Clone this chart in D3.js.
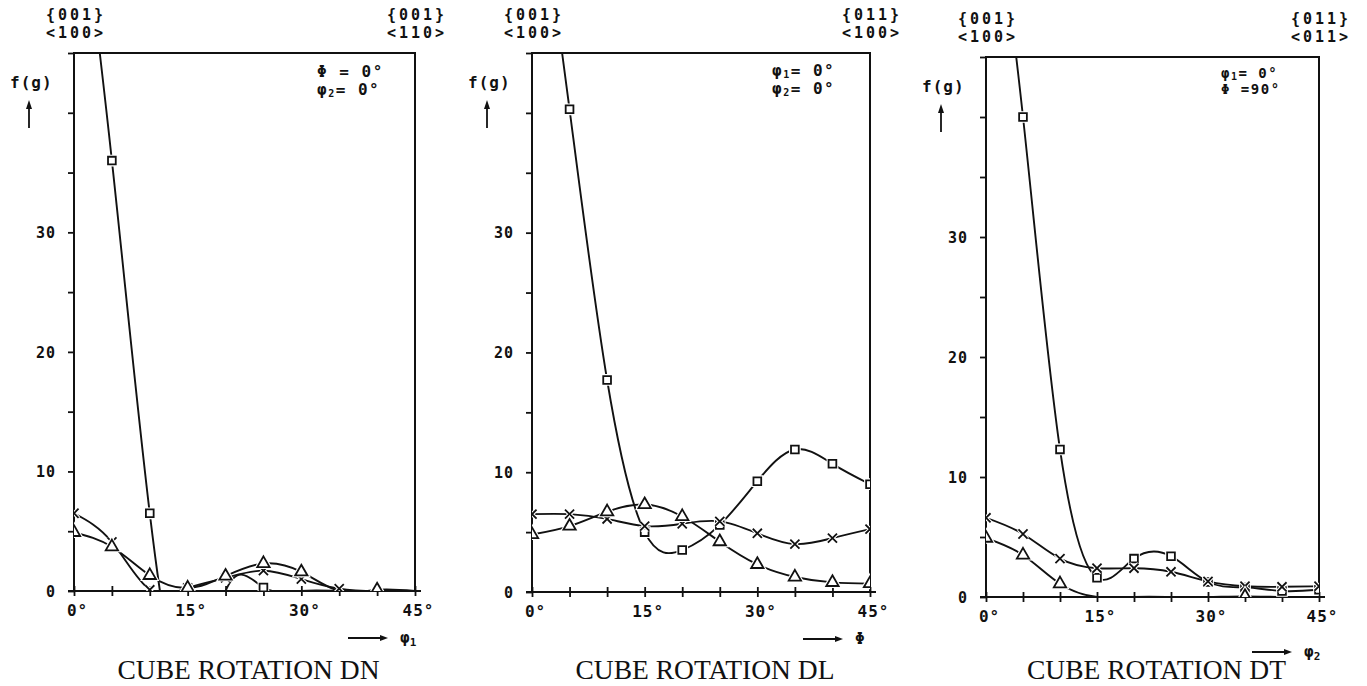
<!DOCTYPE html>
<html>
<head>
<meta charset="utf-8">
<script src="https://cdn.jsdelivr.net/npm/d3@7"></script>
<style>
  html, body { margin: 0; padding: 0; background: #fff; }
  svg { display: block; }
  .plot text { font-family: "DejaVu Sans Mono", monospace; font-weight: bold; fill: #111; }
  .cap { font-family: "Liberation Serif", "Times New Roman", serif; fill: #111; }
</style>
</head>
<body>
<svg id="chart" width="1367" height="686"></svg>
<script>
// ---------------- DATA ----------------
const angles = [0, 5, 10, 15, 20, 25, 30, 35, 40, 45];
const xTickValues = [0, 15, 30, 45];
const xTickLabels = ["0°", "15°", "30°", "45°"];
const yTickValues = [0, 10, 20, 30];
const yTickLabels = ["0", "10", "20", "30"];

// Cube rotation DN (phi1 varies) — value at 15° lies below the plotted range
const dnSquare   = [63, 36, 6.5, -9, 0, 0.3, 0, 0, 0, 0];
const dnCross    = [6.5, 4.1, 0.1, 0.25, 1.1, 1.7, 1.0, 0.2, 0, 0];
const dnTriangle = [4.9, 3.7, 1.3, 0.25, 1.25, 2.3, 1.6, 0, 0.1, 0];

// Cube rotation DL (Phi varies)
const dlSquare   = [64, 40.3, 17.7, 5.0, 3.5, 5.6, 9.25, 11.9, 10.7, 9.0];
const dlCross    = [6.5, 6.5, 6.1, 5.5, 5.7, 5.9, 4.9, 4.0, 4.5, 5.25];
const dlTriangle = [4.8, 5.5, 6.7, 7.3, 6.3, 4.2, 2.3, 1.25, 0.8, 0.7];

// Cube rotation DT (phi2 varies)
const dtSquare   = [65, 40, 12.3, 1.6, 3.2, 3.4, 1.25, 0.8, 0.5, 0.6];
const dtCross    = [6.6, 5.25, 3.2, 2.4, 2.4, 2.1, 1.3, 0.9, 0.85, 0.9];
const dtTriangle = [4.9, 3.5, 1.1, 0, 0, 0, 0, 0.05, 0, 0];

const captions = ["CUBE ROTATION DN", "CUBE ROTATION DL", "CUBE ROTATION DT"];
const topLeftLabels  = [["{001}", "<100>"], ["{001}", "<100>"], ["{001}", "<100>"]];
const topRightLabels = [["{001}", "<110>"], ["{011}", "<100>"], ["{011}", "<011>"]];
// legend: [symbol, subscript, value]
const legendLines = [
  [["Φ", "", " = 0°"], ["φ", "2", "= 0°"]],
  [["φ", "1", "= 0°"], ["φ", "2", "= 0°"]],
  [["φ", "1", "= 0°"], ["Φ", "", " =90°"]]
];
const axisVars = [["φ", "1"], ["Φ", ""], ["φ", "2"]];

// ---------------- LAYOUT ----------------
const layouts = [
  { left: 74,  right: 415,  top: 53, bottom: 591, legY: 24, legGap: 18, legFont: 16 },
  { left: 532, right: 870,  top: 53, bottom: 592, legY: 23, legGap: 18, legFont: 16 },
  { left: 986, right: 1319, top: 57, bottom: 597, legY: 21, legGap: 16, legFont: 14 }
];
const seriesSets = [
  [dnSquare, dnCross, dnTriangle],
  [dlSquare, dlCross, dlTriangle],
  [dtSquare, dtCross, dtTriangle]
];
const symbolTypes = [d3.symbolSquare, d3.symbolX, d3.symbolTriangle];
const symbolSizes = [60, 56, 66];
const ink = "#111";

const svg = d3.select("#chart");

layouts.forEach((L, pi) => {
  const g = svg.append("g").attr("class", "plot");
  const x = d3.scaleLinear().domain([0, 45]).range([L.left, L.right]);
  const y = d3.scaleLinear().domain([0, 45]).range([L.bottom, L.top]);

  const clipId = "clip" + pi;
  svg.append("clipPath").attr("id", clipId)
    .append("rect").attr("x", L.left).attr("y", L.top)
    .attr("width", L.right - L.left).attr("height", L.bottom - L.top);

  // frame
  g.append("rect").attr("x", L.left).attr("y", L.top)
    .attr("width", L.right - L.left).attr("height", L.bottom - L.top)
    .attr("fill", "none").attr("stroke", ink).attr("stroke-width", 2);

  // y axis
  const yAxis = d3.axisLeft(y).tickValues(d3.range(0, 46, 5)).tickSize(6)
    .tickFormat(d => { const i = yTickValues.indexOf(d); return i >= 0 ? yTickLabels[i] : ""; });
  const ya = g.append("g").attr("transform", `translate(${L.left},0)`).call(yAxis);
  ya.select(".domain").remove();
  ya.selectAll(".tick line").attr("stroke", ink).attr("stroke-width", 1.8);
  ya.selectAll(".tick text").attr("x", -18).attr("dy", "0.35em")
    .style("font-size", "15px").style("letter-spacing", "1px").attr("fill", ink);

  // x axis
  const xAxis = d3.axisBottom(x).tickValues(angles).tickSize(5)
    .tickFormat(d => { const i = xTickValues.indexOf(d); return i >= 0 ? xTickLabels[i] : ""; });
  const xa = g.append("g").attr("transform", `translate(0,${L.bottom})`).call(xAxis);
  xa.select(".domain").remove();
  xa.selectAll(".tick line").attr("y1", -5).attr("stroke", ink).attr("stroke-width", 1.8);
  xa.selectAll(".tick text").attr("y", 14).attr("dx", 3)
    .style("font-size", "16px").style("letter-spacing", "1px").attr("fill", ink);
  g.append("line").attr("x1", L.left - 6).attr("x2", L.right + 6)
    .attr("y1", L.bottom).attr("y2", L.bottom).attr("stroke", ink).attr("stroke-width", 2.2);

  // top labels
  const tl = topLeftLabels[pi], tr = topRightLabels[pi];
  [[tl, L.left + 2], [tr, L.right + 2]].forEach(([lab, cx]) => {
    lab.forEach((t, k) => {
      g.append("text").attr("x", cx).attr("y", L.top - 33 + k * 18)
        .attr("text-anchor", "middle").style("font-size", "15px").style("letter-spacing", "3px")
        .text(t);
    });
  });

  // f(g) label and arrow
  g.append("text").attr("x", L.left - 64).attr("y", L.top + 35)
    .style("font-size", "16px").style("letter-spacing", "1px").text("f(g)");
  const ax = L.left - 45;
  g.append("line").attr("x1", ax).attr("x2", ax).attr("y1", L.top + 50).attr("y2", L.top + 75)
    .attr("stroke", ink).attr("stroke-width", 1.8);
  g.append("path").attr("d", `M${ax - 3},${L.top + 56} L${ax},${L.top + 47} L${ax + 3},${L.top + 56} Z`)
    .attr("fill", ink);

  // legend
  legendLines[pi].forEach((ln, k) => {
    const t = g.append("text").attr("x", L.right - 98).attr("y", L.top + L.legY + k * L.legGap)
      .style("font-size", L.legFont + "px").style("letter-spacing", "1.5px");
    t.append("tspan").text(ln[0]);
    if (ln[1]) t.append("tspan").attr("dy", 2).style("font-size", "10px").text(ln[1]);
    t.append("tspan").attr("dy", ln[1] ? -2 : 0).text(ln[2]);
  });

  // x variable arrow
  const vy = L.bottom + 47 + (pi === 2 ? 8 : 0);
  const vx0 = L.right - 67, vx1 = L.right - 27;
  g.append("line").attr("x1", vx0).attr("x2", vx1 - 4).attr("y1", vy).attr("y2", vy)
    .attr("stroke", ink).attr("stroke-width", 2);
  g.append("path").attr("d", `M${vx1 - 8},${vy - 3} L${vx1},${vy} L${vx1 - 8},${vy + 3} Z`).attr("fill", ink);
  const vt = g.append("text").attr("x", vx1 + 12).attr("y", vy + 5).style("font-size", "16px");
  vt.append("tspan").text(axisVars[pi][0]);
  if (axisVars[pi][1]) vt.append("tspan").attr("dy", 3).style("font-size", "11px").text(axisVars[pi][1]);

  // caption
  svg.append("text").attr("class", "cap")
    .attr("x", (L.left + L.right) / 2 + 4).attr("y", 679)
    .attr("text-anchor", "middle").style("font-size", "27.5px")
    .text(captions[pi]);

  // series
  const line = d3.line().x((d, i) => x(angles[i])).y(d => y(d)).curve(d3.curveNatural);
  const sg = g.append("g").attr("clip-path", `url(#${clipId})`);
  seriesSets[pi].forEach((vals) => {
    sg.append("path").attr("d", line(vals)).attr("fill", "none")
      .attr("stroke", ink).attr("stroke-width", 1.9);
  });
  seriesSets[pi].forEach((vals, si) => {
    const sym = d3.symbol().type(symbolTypes[si]).size(symbolSizes[si]);
    const pts = vals.map((v, i) => ({ a: angles[i], v })).filter(p => p.v > 0 && p.v <= 45);
    // white halo to break lines near markers
    sg.selectAll(null).data(pts).enter().append("path")
      .attr("d", sym).attr("transform", p => `translate(${x(p.a)},${y(p.v)})`)
      .attr("fill", "#fff").attr("stroke", "#fff").attr("stroke-width", 4);
    sg.selectAll(null).data(pts).enter().append("path")
      .attr("d", sym).attr("transform", p => `translate(${x(p.a)},${y(p.v)})`)
      .attr("fill", si === 1 ? "none" : "#fff").attr("stroke", ink).attr("stroke-width", 1.8);
  });
});
</script>
</body>
</html>
